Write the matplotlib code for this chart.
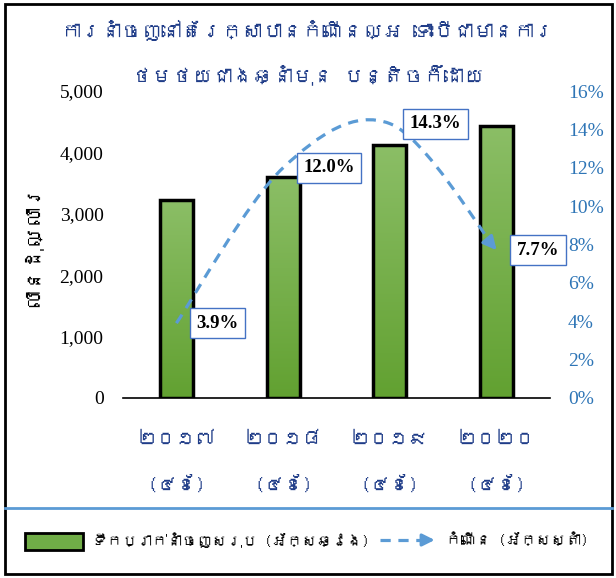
import matplotlib
matplotlib.use('Agg')
import matplotlib.pyplot as plt
import numpy as np
from matplotlib import font_manager
from matplotlib.ft2font import FT2Font
from matplotlib.path import Path
from matplotlib.patches import PathPatch, Rectangle, FancyArrowPatch
from matplotlib.lines import Line2D
from matplotlib.colors import LinearSegmentedColormap

# data
years = ['២០១៧\n(៤ខែ)', '២០១៨\n(៤ខែ)', '២០១៩\n(៤ខែ)', '២០២០\n(៤ខែ)']
exports = [3220, 3600, 4120, 4430]        # million USD, left axis
growth = [3.9, 12.0, 14.3, 7.7]           # %, right axis
left_ticks = [0, 1000, 2000, 3000, 4000, 5000]
right_ticks = [0, 2, 4, 6, 8, 10, 12, 14, 16]

title_1 = 'ការនាំចេញនៅតែរក្សាបានកំណើនល្អ ទោះបីជាមានការ'
title_2 = 'ថមថយជាងឆ្នាំមុន បន្តិចក៏ដោយ'
ylabel = 'លានដុល្លារ'
legend_bar = 'ទឹកប្រាក់នាំចេញសរុប (អ័ក្សឆ្វេង)'
legend_line = 'កំណើន (អ័ក្សស្តាំ)'

NAVY = '#1F3C88'
BLUE = '#5B9BD5'
TICK_BLUE = '#2E75B6'


def find_khmer_font():
    for f in font_manager.fontManager.ttflist:
        try:
            cmap = FT2Font(f.fname).get_charmap()
        except Exception:
            continue
        if 0x1780 in cmap and 0x17D2 in cmap:
            return f.name
    return None


kh = find_khmer_font()
KH = [kh, 'DejaVu Sans'] if kh else ['DejaVu Sans']
SERIF = 'Liberation Serif'

fig = plt.figure(figsize=(6.16, 5.78), dpi=100)
W, H = 616, 578
ax = fig.add_axes([123 / W, 1 - 398 / H, 427 / W, 307 / H])
ax2 = ax.twinx()

x = np.arange(len(exports))
bars = ax.bar(x, exports, width=0.31, facecolor='none', edgecolor='black',
              linewidth=2.5, zorder=3)

# vertical gradient inside each bar
cmap = LinearSegmentedColormap.from_list('g', ['#62A131', '#8BBE66'])
grad = np.linspace(0, 1, 100).reshape(-1, 1)
for b in bars:
    img = ax.imshow(grad, extent=[b.get_x(), b.get_x() + b.get_width(), 0, b.get_height()],
                    origin='lower', aspect='auto', cmap=cmap, zorder=2)
    img.set_clip_path(b)

ax.set_xlim(-0.5, 3.5)
ax.set_ylim(0, 5000)
ax.set_yticks(left_ticks)
ax.set_yticklabels([f'{v:,}' for v in left_ticks], family=SERIF, fontsize=14)
ax.tick_params(axis='y', length=0, pad=14)
ax.set_xticks(x)
ax.set_xticklabels(years, family=KH, fontsize=14, color=NAVY, linespacing=2.7)
ax.tick_params(axis='x', length=0, pad=24)
for s in ['left', 'right', 'top']:
    ax.spines[s].set_visible(False)
ax.spines['bottom'].set_linewidth(1.2)
ax.set_ylabel(ylabel, family=KH, fontsize=15, labelpad=14)

ax2.set_ylim(0, 16)
ax2.set_yticks(right_ticks)
ax2.set_yticklabels([f'{v}%' for v in right_ticks], family=SERIF, fontsize=14, color=TICK_BLUE)
ax2.tick_params(axis='y', length=0, pad=13)
for s in ax2.spines.values():
    s.set_visible(False)

# smoothed growth line (Catmull-Rom as cubic Bezier)
pts = np.column_stack([x, growth]).astype(float)
n = len(pts)
verts = [pts[0]]
codes = [Path.MOVETO]
for i in range(n - 1):
    p0 = pts[max(i - 1, 0)]
    p1 = pts[i]
    p2 = pts[i + 1]
    p3 = pts[min(i + 2, n - 1)]
    verts += [p1 + (p2 - p0) / 6, p2 - (p3 - p1) / 6, p2]
    codes += [Path.CURVE4] * 3
ax2.add_patch(PathPatch(Path(verts, codes), fill=False, edgecolor=BLUE, linewidth=2.3,
                        linestyle=(0, (3.2, 2.4)), zorder=4))
tail = verts[-2]
tip = pts[-1]
ax2.annotate('', xy=tip, xytext=tip - 0.35 * (tip - tail),
             arrowprops=dict(arrowstyle='-|>', color=BLUE, lw=2.3, mutation_scale=20,
                             shrinkA=0, shrinkB=0), zorder=5)

for xi, g in zip(x, growth):
    ax2.annotate(f'{g:.1f}%', xy=(xi, g), xytext=(20, 0), textcoords='offset pixels',
                 ha='left', va='center', fontsize=13.5, fontweight='bold', family=SERIF,
                 bbox=dict(boxstyle='square,pad=0.35', fc='white', ec='#4472C4', lw=1),
                 zorder=6)

# title
fig.text(0.5, 1 - 30 / H, title_1, ha='center', va='center', family=KH, fontsize=14.5,
         fontweight='bold', fontstyle='italic', color=NAVY)
fig.text(0.5, 1 - 75 / H, title_2, ha='center', va='center', family=KH, fontsize=14.5,
         fontweight='bold', fontstyle='italic', color=NAVY)

# legend, laid out left to right by measured text widths
ly = 1 - 540 / H
fig.patches.append(Rectangle((25 / W, 1 - 550 / H), 58 / W, 17 / H,
                             transform=fig.transFigure, facecolor='#70AD47',
                             edgecolor='black', linewidth=2))
t1 = fig.text(92 / W, ly, legend_bar, ha='left', va='center', family=KH, fontsize=10.8)
renderer = fig.canvas.get_renderer()
x_end = t1.get_window_extent(renderer).x1
a0 = x_end + 10
fig.lines.append(Line2D([a0 / W, (a0 + 42) / W], [ly] * 2, transform=fig.transFigure,
                        color=BLUE, lw=2.3, linestyle=(0, (3.2, 2.4))))
fig.patches.append(FancyArrowPatch(((a0 + 40) / W, ly), ((a0 + 58) / W, ly),
                                   transform=fig.transFigure, arrowstyle='-|>',
                                   mutation_scale=18, color=BLUE, lw=2.3))
fig.text((a0 + 66) / W, ly, legend_line, ha='left', va='center', family=KH, fontsize=10.8)

# separator and frame
fig.lines.append(Line2D([5 / W, 612 / W], [1 - 508 / H] * 2, transform=fig.transFigure,
                        color=BLUE, lw=2))
fig.patches.append(Rectangle((5 / W, 4 / H), 607 / W, 570 / H, transform=fig.transFigure,
                             fill=False, edgecolor='black', linewidth=2))

fig.savefig('out.png', dpi=100)
